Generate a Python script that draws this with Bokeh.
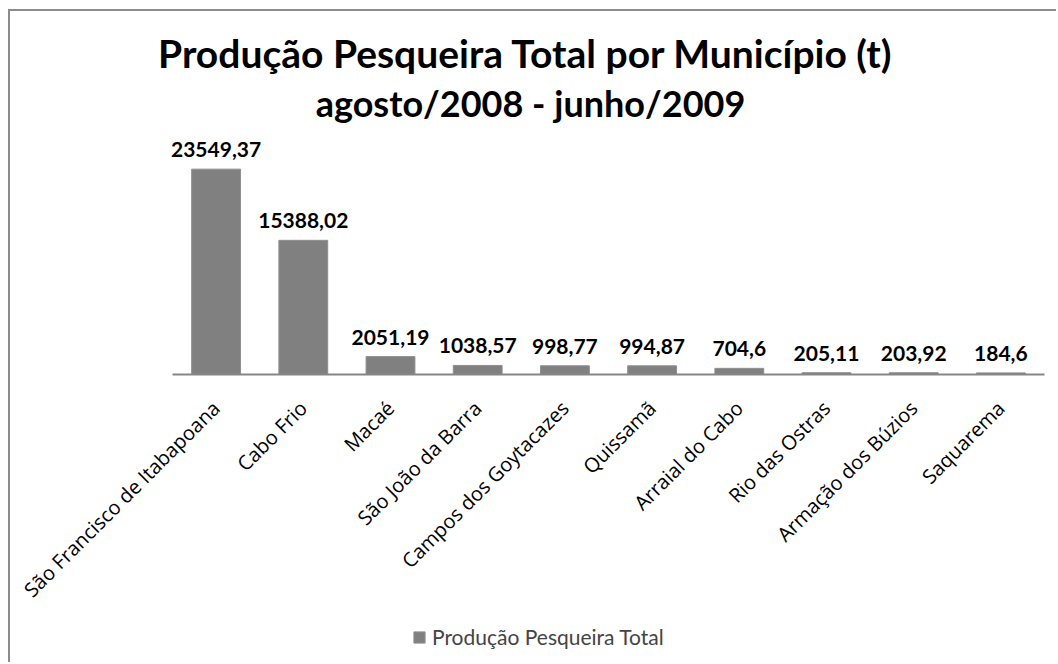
from bokeh.plotting import figure
from bokeh.models import (ColumnDataSource, Range1d, LabelSet, Label, Legend, LegendItem,
                          LinearAxis, FixedTicker)
from bokeh.core.properties import value
from bokeh.embed import file_html
from bokeh.resources import INLINE
import math

municipios = ["São Francisco de Itabapoana", "Cabo Frio", "Macaé", "São João da Barra",
              "Campos dos Goytacazes", "Quissamã", "Arraial do Cabo", "Rio das Ostras",
              "Armação dos Búzios", "Saquarema"]
producao = [23549.37, 15388.02, 2051.19, 1038.57, 998.77, 994.87, 704.6, 205.11, 203.92, 184.6]
rotulos = ["23549,37", "15388,02", "2051,19", "1038,57", "998,77", "994,87", "704,6",
           "205,11", "203,92", "184,6"]
titulo1 = "Produção  Pesqueira Total por Município (t)"
titulo2 = "agosto/2008 - junho/2009"
serie = "Produção Pesqueira Total"

W, H = 1048, 653
BOLD_FONT = "Lato"
FONT = "Open Sans"

pos = list(range(len(municipios)))
src = ColumnDataSource(dict(x=pos, top=producao, lab=rotulos))

# layout of the plotting area (pixels inside the canvas)
cat_px = 87.2          # width of one category
left_px = 162          # where the first category starts
zero_px = 363          # where the baseline lies (from the top)
unit_per_px = 25000 / 218

x0 = -0.5 - left_px / cat_px
x1 = x0 + W / cat_px
y1 = zero_px * unit_per_px
y0 = -(H - zero_px) * unit_per_px

p = figure(width=W, height=H, x_range=Range1d(x0, x1), y_range=Range1d(y0, y1),
           x_axis_type=None, y_axis_type=None,
           output_backend="svg", toolbar_location=None,
           min_border=0, background_fill_color="white", border_fill_color="white")
p.outline_line_color = None
p.grid.visible = False
p.styles = {"margin-left": "8px", "margin-top": "9px",
            "border-left": "2px solid #8c8c8c", "border-top": "2px solid #8c8c8c"}

r = p.vbar(x="x", top="top", width=0.56, source=src, fill_color="#808080",
           line_color="#8f8f8f", line_width=1)

ax = LinearAxis(fixed_location=0, ticker=FixedTicker(ticks=pos),
                major_label_overrides={i: m for i, m in enumerate(municipios)},
                bounds=(-0.5, len(municipios) - 0.5))
ax.axis_line_color = "#868686"
ax.axis_line_width = 2
ax.major_tick_line_color = None
ax.minor_tick_line_color = None
ax.major_label_orientation = math.pi / 4
ax.major_label_text_font = FONT
ax.major_label_text_font_size = "20px"
ax.major_label_text_color = "black"
ax.major_label_standoff = 24
p.add_layout(ax, "below")

labels = LabelSet(x="x", y="top", text="lab", source=src, y_offset=12,
                  text_align="center", text_baseline="alphabetic",
                  text_font=value(BOLD_FONT), text_font_size=value("21px"),
                  text_font_style=value("bold"), text_color="black")
p.add_layout(labels)

for txt, yy, fs in [(titulo1, 612, "39px"), (titulo2, 562, "36px")]:
    p.add_layout(Label(x=520, y=yy, x_units="screen", y_units="screen", text=txt,
                       text_align="center", text_baseline="alphabetic",
                       text_font=BOLD_FONT, text_font_size=fs, text_font_style="bold",
                       text_color="black"))

legend = Legend(items=[LegendItem(label=serie, renderers=[r])],
                location=(402, 15), orientation="horizontal",
                border_line_color=None, background_fill_alpha=0,
                label_text_font=BOLD_FONT, label_text_font_size="21px",
                glyph_width=14, glyph_height=14, padding=0, margin=0,
                label_standoff=6)
p.add_layout(legend, "center")

open("out.html", "w").write(file_html(p, INLINE))
